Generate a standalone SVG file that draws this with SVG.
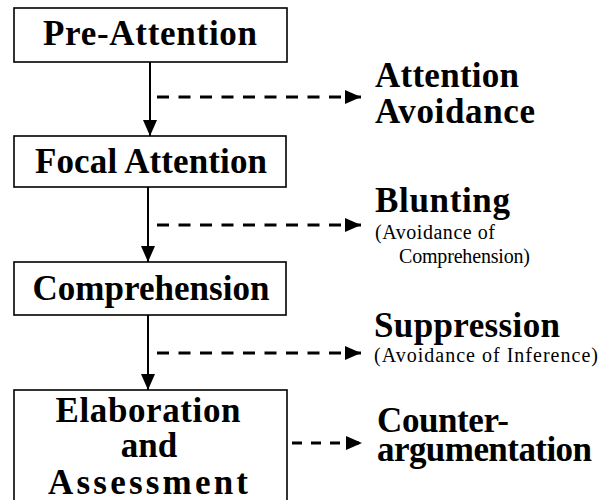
<svg xmlns="http://www.w3.org/2000/svg" width="607" height="500" viewBox="0 0 607 500">
<style>
.box{fill:#fff;stroke:#000;stroke-width:1.6}
.solid{stroke:#000;stroke-width:2;fill:none}
.dash{stroke:#000;stroke-width:3;fill:none;stroke-dasharray:12 9.5}
.lbl{font-family:"Liberation Serif","Times New Roman",serif;font-weight:bold;font-size:35px;fill:#000}
.sub{font-family:"Liberation Serif","Times New Roman",serif;font-weight:normal;font-size:20px;fill:#000}
</style>
<defs>
<marker id="ah" markerUnits="userSpaceOnUse" markerWidth="16" markerHeight="14" refX="16" refY="7" orient="auto">
<path d="M0,0 L16,7 L0,14 z" fill="#000"/>
</marker>
</defs>
<rect width="607" height="500" fill="#fff"/>
<g id="connectors">
<line class="solid" x1="150" y1="62" x2="150" y2="136" marker-end="url(#ah)"/>
<line class="solid" x1="148" y1="187" x2="148" y2="262" marker-end="url(#ah)"/>
<line class="solid" x1="148" y1="315" x2="148" y2="390" marker-end="url(#ah)"/>
<line class="dash" x1="157" y1="97" x2="361" y2="97" marker-end="url(#ah)"/>
<line class="dash" x1="157" y1="225" x2="361" y2="225" marker-end="url(#ah)"/>
<line class="dash" x1="157" y1="353" x2="361" y2="353" marker-end="url(#ah)"/>
<line class="dash" x1="292" y1="443" x2="362" y2="443" style="stroke-dasharray:10 9" marker-end="url(#ah)"/>
</g>
<g id="pre-attention">
<rect class="box" x="14" y="8" width="273" height="54"/>
<text class="lbl" x="150" y="45" text-anchor="middle" textLength="214">Pre-Attention</text>
</g>
<g id="focal-attention">
<rect class="box" x="14" y="136" width="272" height="51"/>
<text class="lbl" x="151" y="173" text-anchor="middle" textLength="232">Focal Attention</text>
</g>
<g id="comprehension">
<rect class="box" x="14" y="262" width="272" height="53"/>
<text class="lbl" x="151" y="300" text-anchor="middle" textLength="237">Comprehension</text>
</g>
<g id="elaboration">
<rect class="box" x="14" y="390" width="273" height="120"/>
<text class="lbl" x="148" y="422" text-anchor="middle" textLength="185">Elaboration</text>
<text class="lbl" x="149" y="457" text-anchor="middle">and</text>
<text class="lbl" x="148" y="494" text-anchor="middle" textLength="200">Assessment</text>
</g>
<g id="attention-avoidance">
<text class="lbl" x="375" y="87" textLength="144">Attention</text>
<text class="lbl" x="375" y="123" textLength="160">Avoidance</text>
</g>
<g id="blunting">
<text class="lbl" x="375" y="212" textLength="135">Blunting</text>
<text class="sub" x="375" y="239" textLength="120">(Avoidance of</text>
<text class="sub" x="399" y="263" textLength="131">Comprehension)</text>
</g>
<g id="suppression">
<text class="lbl" x="374" y="337" textLength="186">Suppression</text>
<text class="sub" x="374" y="362" textLength="224">(Avoidance of Inference)</text>
</g>
<g id="counterargumentation">
<text class="lbl" x="377" y="432" textLength="132">Counter-</text>
<text class="lbl" x="377" y="461" textLength="215">argumentation</text>
</g>
</svg>
